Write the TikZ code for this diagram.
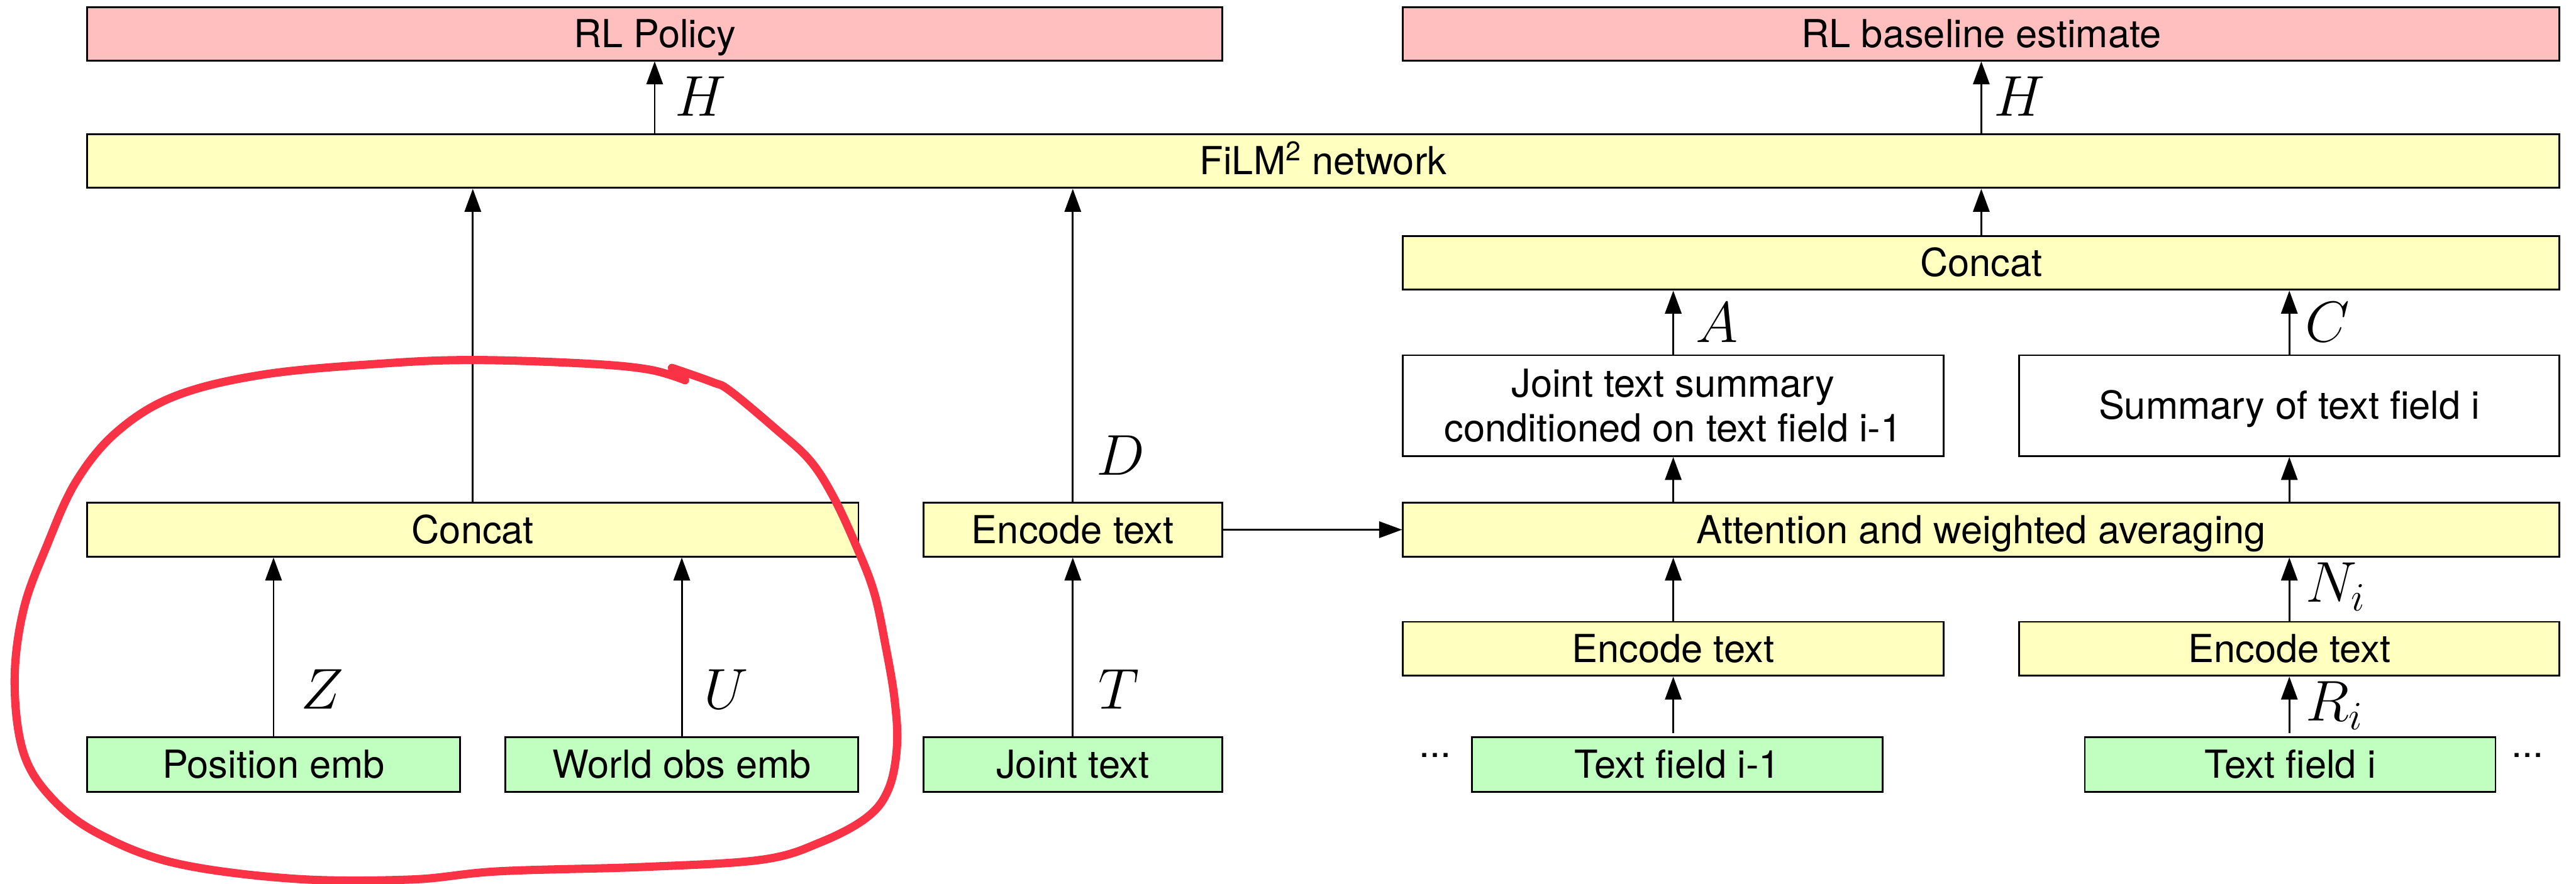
\documentclass[tikz,border=0pt]{standalone}
\usepackage{fix-cm}
\usepackage{fontspec}
\setmainfont{TeX Gyre Heros}
\usetikzlibrary{arrows.meta}
\definecolor{pinkf}{RGB}{255,191,191}
\definecolor{yellowf}{RGB}{255,255,192}
\definecolor{greenf}{RGB}{192,255,192}
\definecolor{redpen}{RGB}{250,50,70}
\begin{document}
\begin{tikzpicture}[x=1pt,y=-1pt,
  basebox/.style={draw=black, line width=1.1pt, rectangle, inner sep=0pt,
    font=\fontsize{23.5}{27}\selectfont, align=center},
  box/.style={basebox, text height=16.5pt, text depth=0pt},
  pinkbox/.style={box, fill=pinkf, minimum height=32.4pt},
  yelbox/.style={box, fill=yellowf, minimum height=32.8pt},
  grnbox/.style={box, fill=greenf, minimum height=33pt},
  whitebox/.style={basebox, fill=white, minimum height=61.4pt},
  arr/.style={-{Triangle[length=14pt,width=10pt]}, line width=1.1pt},
  lbl/.style={font=\fontsize{35}{40}\selectfont, inner sep=0pt, anchor=base west},
  dots/.style={font=\fontsize{23.5}{27}\selectfont, inner sep=0pt, anchor=base},
  pen/.style={draw=redpen, line width=5pt, line cap=round, line join=round}
]
\useasboundingbox (0,0) rectangle (1568,538.2);

% top outputs
\node[pinkbox, minimum width=691pt] (pol) at (398.5,20.6) {RL Policy};
\node[pinkbox, minimum width=704pt] (base) at (1206,20.6) {RL baseline estimate};

% FiLM
\node[yelbox, minimum width=1505pt] (film) at (805.5,98) {FiLM\textsuperscript{2} network};

% right concat
\node[yelbox, minimum width=704pt] (cat2) at (1206,160) {Concat};

% summaries
\node[whitebox, minimum width=329pt] (jts) at (1018.5,247) {Joint text summary\\conditioned on text field i-1};
\node[whitebox, minimum width=329pt, text height=16.5pt, text depth=0pt] (sum) at (1393.5,247) {Summary of text field i};

% middle row
\node[yelbox, minimum width=469.5pt] (cat1) at (287.8,322.5) {Concat};
\node[yelbox, minimum width=182pt] (enc0) at (653,322.5) {Encode text};
\node[yelbox, minimum width=704pt] (att) at (1206,322.5) {Attention and weighted averaging};

% encoders
\node[yelbox, minimum width=329pt] (enc1) at (1018.5,395) {Encode text};
\node[yelbox, minimum width=329pt] (enc2) at (1393.5,395) {Encode text};

% inputs
\node[grnbox, minimum width=227pt] (posemb) at (166.5,465.5) {Position emb};
\node[grnbox, minimum width=215pt] (world) at (415,465.5) {World obs emb};
\node[grnbox, minimum width=182pt] (joint) at (653,465.5) {Joint text};
\node[grnbox, minimum width=250pt] (tf1) at (1021,465.5) {Text field i-1};
\node[grnbox, minimum width=250pt] (tf2) at (1394,465.5) {Text field i};
\node[dots] (dl) at (873.5,461) {...};
\node[dots] (dr) at (1538.5,461) {...};

% arrows
\draw[arr] (pol.south |- film.north) -- (pol.south) node[lbl, pos=0.24, xshift=12pt] {$H$};
\draw[arr] (base.south |- film.north) -- (base.south) node[lbl, pos=0.24, xshift=7pt] {$H$};
\draw[arr] (cat2.north) -- (cat2.north |- film.south);
\draw[arr] (cat1.north) -- (cat1.north |- film.south);
\draw[arr] (enc0.north) -- (enc0.north |- film.south) node[lbl, pos=0.085, xshift=14pt] {$D$};
\draw[arr] (jts.north) -- (jts.north |- cat2.south) node[lbl, pos=0.185, xshift=13pt] {$A$};
\draw[arr] (sum.north) -- (sum.north |- cat2.south) node[lbl, pos=0.2, xshift=9pt] {$C$};
\draw[arr] (jts.south |- att.north) -- (jts.south);
\draw[arr] (sum.south |- att.north) -- (sum.south);
\draw[arr] (enc0.east) -- (enc0.east -| att.west);
\draw[arr] (enc1.north) -- (enc1.north |- att.south);
\draw[arr] (enc2.north) -- (enc2.north |- att.south) node[lbl, pos=0.3, xshift=9.5pt] {$N_i$};
\draw[arr, shorten <=2pt] (enc1.south |- tf1.north) -- (enc1.south);
\draw[arr, shorten <=2pt] (enc2.south |- tf2.north) -- (enc2.south) node[lbl, pos=0.26, xshift=9.5pt] {$R_i$};
\draw[arr] (posemb.north) -- (posemb.north |- cat1.south) node[lbl, pos=0.155, xshift=16pt] {$Z$};
\draw[arr] (world.north) -- (world.north |- cat1.south) node[lbl, pos=0.155, xshift=13pt] {$U$};
\draw[arr] (joint.north) -- (joint.north |- enc0.south) node[lbl, pos=0.155, xshift=15pt] {$T$};

% red freehand loop
\draw[pen] plot[smooth, tension=0.6] coordinates {
  (409,224) (433.5,232.6) (444.4,238) (472,261) (492.7,280) (507,302)
  (521,332) (532,360.5) (539,393) (544.5,425.7) (546,454) (541,480)
  (528,497.4) (500,512.6) (464,523.4) (392.8,527.8) (303.5,530.5)
  (250,535.5) (178.5,535) (107,525.6) (60.7,508) (32,486.5) (14.3,458.3)
  (8.9,414.8) (14.3,371.3) (28.6,332) (46.4,293) (71.4,262.7) (107,241)
  (160.7,228) (232,221.4) (288,219.2) (357,221.4) (395,225) (417,231.5)};
\end{tikzpicture}
\end{document}
